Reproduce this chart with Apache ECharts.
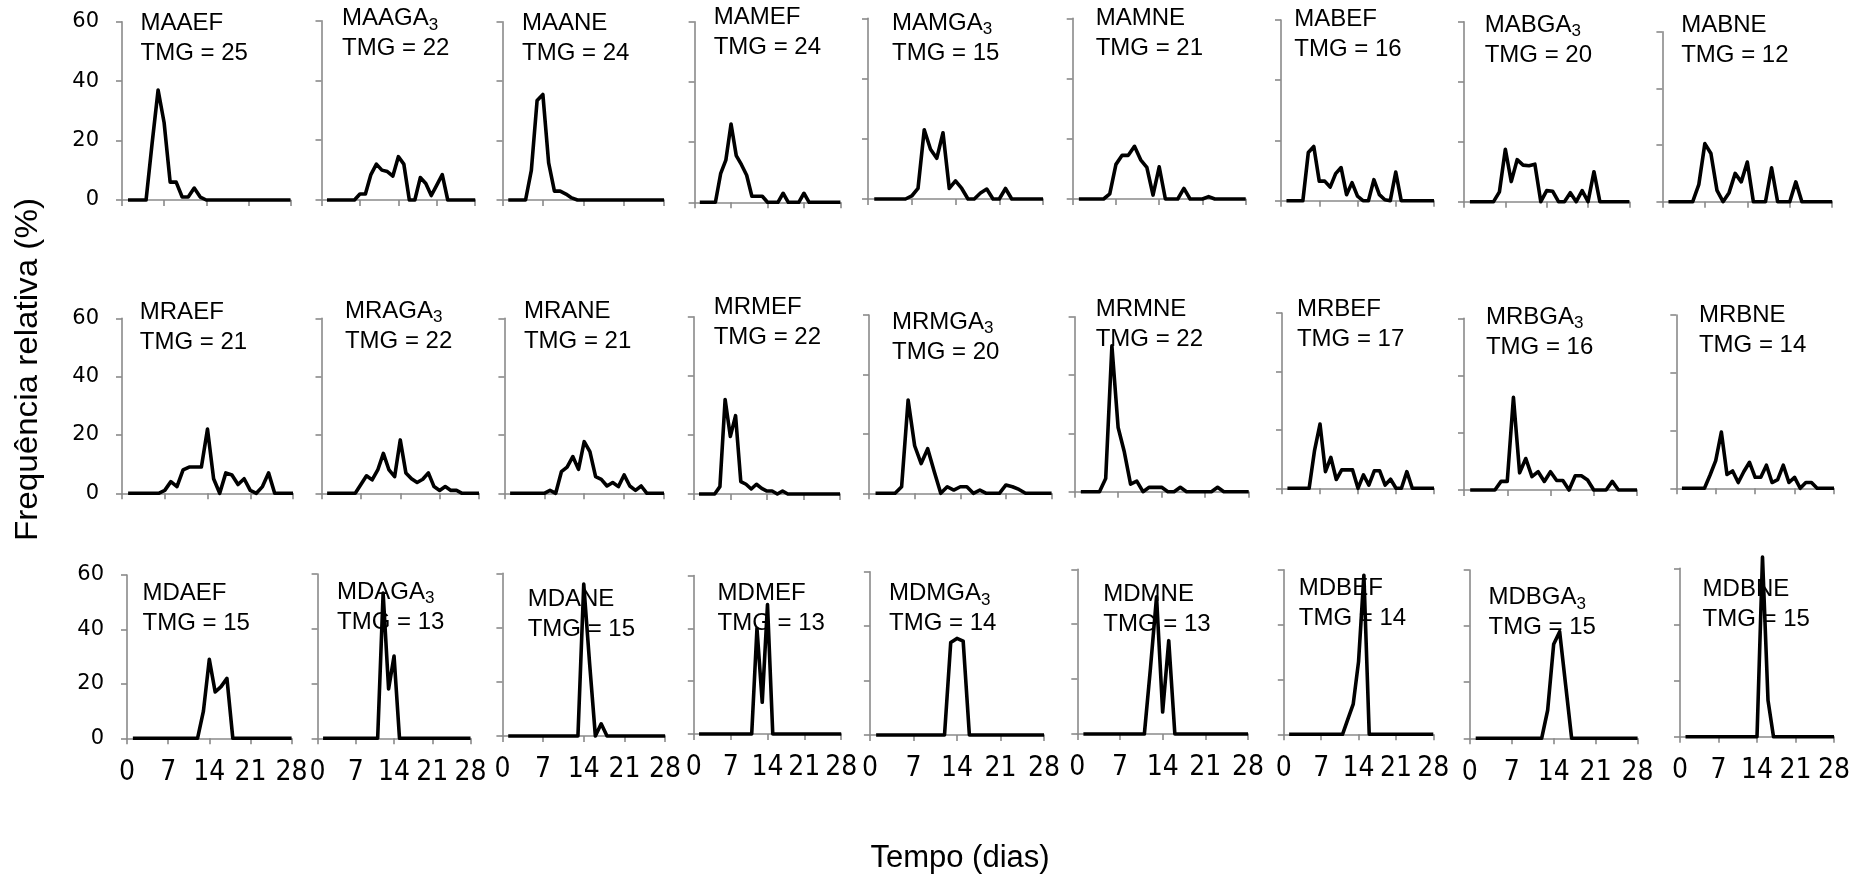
<!DOCTYPE html>
<html><head><meta charset="utf-8">
<script src="https://cdn.jsdelivr.net/npm/echarts/dist/echarts.min.js"></script>
<style>html,body{margin:0;padding:0;background:#fff}#c{width:1869px;height:878px}</style>
</head><body><div id="c"></div>
<script>
// ---------- DATA ----------
const days = [1,2,3,4,5,6,7,8,9,10,11,12,13,14,15,16,17,18,19,20,21,22,23,24,25,26,27,28];
const xTickLabels = [0,7,14,21,28];
const yTickLabels = [0,20,40,60];
const names = ['MAAEF','MAAGA3','MAANE','MAMEF','MAMGA3','MAMNE','MABEF','MABGA3','MABNE',
               'MRAEF','MRAGA3','MRANE','MRMEF','MRMGA3','MRMNE','MRBEF','MRBGA3','MRBNE',
               'MDAEF','MDAGA3','MDANE','MDMEF','MDMGA3','MDMNE','MDBEF','MDBGA3','MDBNE'];
const tmg = [25,22,24,24,15,21,16,20,12,
             21,22,21,22,20,22,17,16,14,
             15,13,15,13,14,13,14,15,15];

const MAAEF  = [0,0,0,0,19,37,26,6,6,1,1,4,1,0,0,0,0,0,0,0,0,0,0,0,0,0,0,0];
const MAAGA3 = [0,0,0,0,0,0,2,2,8.5,12,10,9.5,8,14.5,12,0,0,7.5,5.5,1.5,5,8.5,0,0,0,0,0,0];
const MAANE  = [0,0,0,0,10,33.5,35.5,12.5,3,3,2,0.7,0,0,0,0,0,0,0,0,0,0,0,0,0,0,0,0];
const MAMEF  = [0,0,0,0,9.5,14,26,15.5,12.5,9,2,2,2,0,0,0,3,0,0,0,3,0,0,0,0,0,0,0];
const MAMGA3 = [0,0,0,0,0,0,1,3.5,23,16.5,13.5,22,3.5,6,3.5,0,0,2,3.3,0,0,3.5,0,0,0,0,0,0];
const MAMNE  = [0,0,0,0,0,1.7,11.5,14.5,14.5,17.5,13,10.5,1.3,10.7,0,0,0,3.5,0,0,0,0.8,0,0,0,0,0,0];
const MABEF  = [0,0,0,0,16,18,6.5,6.5,4.5,9,11,2,6,1.5,0,0,7,2,0.3,0,9.5,0,0,0,0,0,0,0];
const MABGA3 = [0,0,0,0,0,3.3,17.5,6.7,14,12.2,12,12.5,0,3.7,3.5,0,0,3,0,3.7,0,10,0,0,0,0,0,0];
const MABNE  = [0,0,0,0,0,6,20.5,17,4,0,3.2,10,7,14,0,0,0,12,0,0,0,7,0,0,0,0,0,0];

const MRAEF  = [0,0,0,0,0,0,1,4,2.3,8,9,9,9,22,5,0,7,6.3,3,5,1,0,2.3,7,0,0,0,0];
const MRAGA3 = [0,0,0,0,0,0,3,6,4.6,8,13.7,8,5.7,18.3,7,5,3.7,4.8,7,2.3,1,2.3,1,1,0,0,0,0];
const MRANE  = [0,0,0,0,0,0,0,1,0,7.4,9,12.6,8.2,17.7,14.3,5.7,4.8,2.5,3.7,2.3,6.3,2.5,1,2.5,0,0,0,0];
const MRMEF  = [0,0,0,0,2.5,32,19.5,26.5,4.2,3.3,1.7,3.3,1.9,1,1,0,1,0,0,0,0,0,0,0,0,0,0,0];
const MRMGA3 = [0,0,0,0,2.2,31.4,16,10,15,7.3,0,2.2,1.1,2.2,2.2,0,1.1,0,0,0,2.8,2.2,1.3,0,0,0,0,0];
const MRMNE  = [0,0,0,0,4.5,50,22,13.6,2.6,3.6,0,1.5,1.5,1.5,0,0,1.5,0,0,0,0,0,1.5,0,0,0,0,0];
const MRBEF  = [0,0,0,0,0,13,22,5.7,10.6,3,6.3,6.3,6.3,0,4.6,1.1,6,6,1.1,3.1,0,0,5.7,0,0,0,0,0];
const MRBGA3 = [0,0,0,0,0,3,3,32.4,6,11,4.7,6.4,3,6.4,3.3,3.3,0,5,5,3.5,0,0,0,3,0,0,0,0];
const MRBNE  = [0,0,0,0,0,4.6,9.6,19.5,4.8,6,2,5.8,9,3.8,3.8,8,2,3,8,2,3.8,0,2,2,0,0,0,0];

const MDAEF  = [0,0,0,0,0,0,0,0,0,0,0,0,10,29,17,19,22,0,0,0,0,0,0,0,0,0,0,0];
const MDAGA3 = [0,0,0,0,0,0,0,0,0,0,0,53,18,30,0,0,0,0,0,0,0,0,0,0,0,0,0,0];
const MDANE  = [0,0,0,0,0,0,0,0,0,0,0,0,0,56,27,0,4.5,0,0,0,0,0,0,0,0,0,0,0];
const MDMEF  = [0,0,0,0,0,0,0,0,0,0,0,40,12,49,0,0,0,0,0,0,0,0,0,0,0,0,0,0];
const MDMGA3 = [0,0,0,0,0,0,0,0,0,0,0,0,34,35.5,34.5,0,0,0,0,0,0,0,0,0,0,0,0,0];
const MDMNE  = [0,0,0,0,0,0,0,0,0,0,0,24,50,8,34,0,0,0,0,0,0,0,0,0,0,0,0,0];
const MDBEF  = [0,0,0,0,0,0,0,0,0,0,0,5.5,11,26.5,58,0,0,0,0,0,0,0,0,0,0,0,0,0];
const MDBGA3 = [0,0,0,0,0,0,0,0,0,0,0,0,10,33.5,38,19,0,0,0,0,0,0,0,0,0,0,0,0];
const MDBNE  = [0,0,0,0,0,0,0,0,0,0,0,0,0,0,64,13,0,0,0,0,0,0,0,0,0,0,0,0];

const panelValues = [MAAEF,MAAGA3,MAANE,MAMEF,MAMGA3,MAMNE,MABEF,MABGA3,MABNE,
                     MRAEF,MRAGA3,MRANE,MRMEF,MRMGA3,MRMNE,MRBEF,MRBGA3,MRBNE,
                     MDAEF,MDAGA3,MDANE,MDMEF,MDMGA3,MDMNE,MDBEF,MDBGA3,MDBNE];

// ---------- LAYOUT (pixels) ----------
// [left(x=0), right(x=28), top(y=60), bottom(y=0)]
const boxes = [
 [122,290.5,21.7,200],[321.5,475.2,20.7,200],[502.5,664,21.7,200],[694.6,840.4,21.7,202.3],[868,1043,18.3,199],[1072.7,1245.7,18.3,199],[1281,1434,20,200.7],[1464,1629.4,21.7,201.7],[1662.4,1832.2,31.7,201.7],
 [122,293,318.3,493.3],[321.5,479,318.3,493.3],[504.4,664,318.3,493.3],[693.8,840,316.7,494],[869,1051.6,315,493.3],[1074.6,1248.7,316.7,491.7],[1282,1434,313,488.3],[1464,1637,318.3,490],[1676.3,1834,315,488.3],
 [127,291.6,575,738.3],[317.6,470.5,574,738.3],[502.4,665.1,573.3,736],[693.8,841.2,575.6,734],[869.9,1044,571.7,735],[1077.3,1248,569.3,734],[1283.8,1433.3,569.7,734.3],[1469.7,1637.6,570,738.3],[1680,1834,568.3,736.7]
];
// [left, centre y of first line]
const labelPos = [
 [140.6,23.5],[342,18.5],[522,23.5],[713.7,17.3],[892,23],[1095.7,18],[1294.3,19],[1484.7,25],[1681.2,25],
 [139.8,312],[344.9,311],[523.9,311],[713.7,307],[892,322],[1095.7,309],[1296.9,309.5],[1485.9,317],[1698.9,315.5],
 [142.5,593],[337,592],[527.7,599],[717.6,593.5],[889,593.5],[1103.3,594],[1298.8,588],[1488.5,597.5],[1702.6,589]
];

const FONT = 'Liberation Sans, Arial, sans-serif';
const X_LABEL_FONT = '"Liberation Sans Narrow", "DejaVu Sans Condensed", "Liberation Sans", Arial, sans-serif';
const Y_LABEL_FONT = '"DejaVu Sans", Verdana, sans-serif';
const AXIS_COLOR = '#8a8a8a';

const grids = [], xAxes = [], yAxes = [], series = [], titles = [];
panelValues.forEach((vals, i) => {
  const row = Math.floor(i / 9), col = i % 9;
  const b = boxes[i];
  grids.push({left: b[0], top: b[2], width: b[1] - b[0], height: b[3] - b[2], containLabel: false});
  xAxes.push({
    gridIndex: i, type: 'value', min: xTickLabels[0], max: xTickLabels[xTickLabels.length - 1], interval: 7,
    axisLine: {show: true, onZero: false, lineStyle: {color: AXIS_COLOR, width: 1.6}},
    axisTick: {show: true, length: 6, lineStyle: {color: AXIS_COLOR, width: 1.6}},
    axisLabel: {show: row === 2, fontSize: 28, color: '#000', fontFamily: X_LABEL_FONT, margin: 20},
    splitLine: {show: false}
  });
  yAxes.push({
    gridIndex: i, type: 'value', min: yTickLabels[0], max: yTickLabels[yTickLabels.length - 1], interval: 20,
    axisLine: {show: true, lineStyle: {color: AXIS_COLOR, width: 1.6}},
    axisTick: {show: true, length: 6, lineStyle: {color: AXIS_COLOR, width: 1.6}},
    axisLabel: {show: col === 0, fontSize: 21, color: '#000', fontFamily: Y_LABEL_FONT, margin: 23},
    splitLine: {show: false}
  });
  series.push({
    type: 'line', xAxisIndex: i, yAxisIndex: i,
    data: days.map((d, k) => [d, vals[k]]),
    showSymbol: false, clip: false, animation: false,
    lineStyle: {color: '#000', width: 3.6, join: 'round'},
    z: 5
  });
  const m = names[i].match(/^(.*GA)3$/);
  const first = m ? '{n|' + m[1] + '}{s|3}' : '{n|' + names[i] + '}';
  const lp = labelPos[i];
  titles.push({
    text: first + '\n{n|TMG = ' + tmg[i] + '}',
    left: lp[0], top: lp[1] - 15, padding: 0,
    textStyle: {
      fontFamily: FONT, color: '#000', fontWeight: 'normal',
      rich: {
        n: {fontSize: 24, lineHeight: 30, color: '#000', fontFamily: FONT, fontWeight: 'normal'},
        s: {fontSize: 17, lineHeight: 12, verticalAlign: 'bottom', color: '#000', fontFamily: FONT, fontWeight: 'normal'}
      }
    }
  });
});

const chart = echarts.init(document.getElementById('c'), null, {renderer: 'canvas'});
chart.setOption({
  backgroundColor: '#fff',
  animation: false,
  textStyle: {fontFamily: FONT},
  title: titles,
  grid: grids, xAxis: xAxes, yAxis: yAxes, series: series,
  graphic: [
    {type: 'text', x: 960, y: 858, z: 10,
     style: {text: 'Tempo (dias)', font: '31px ' + FONT, fill: '#000', textAlign: 'center', textVerticalAlign: 'middle', align: 'center', verticalAlign: 'middle'}},
    {type: 'text', x: 28.6, y: 369.5, rotation: Math.PI / 2, scaleX: 1.07, z: 10,
     style: {text: 'Frequência relativa (%)', font: '31px ' + FONT, fill: '#000', textAlign: 'center', textVerticalAlign: 'middle', align: 'center', verticalAlign: 'middle'}}
  ]
});
</script></body></html>
